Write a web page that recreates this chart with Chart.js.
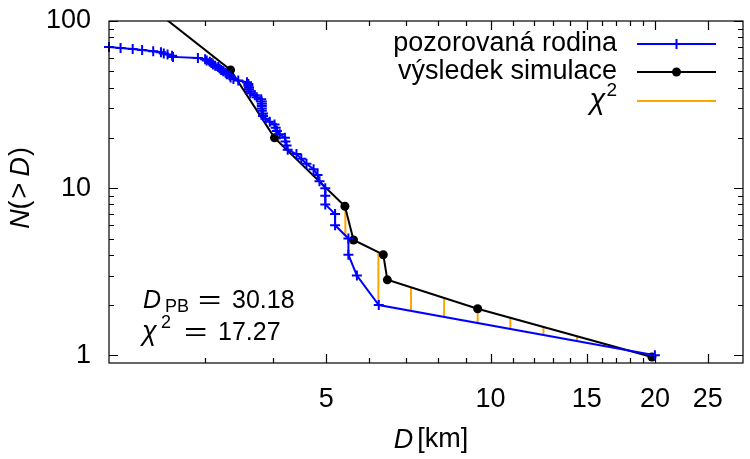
<!DOCTYPE html>
<html>
<head>
<meta charset="utf-8">
<script src="https://cdn.jsdelivr.net/npm/chart.js@4/dist/chart.umd.min.js"></script>
<style>
  body { margin: 0; background: #fff; }
  #wrap { width: 750px; height: 459px; }
</style>
</head>
<body>
<div id="wrap"><canvas id="chart"></canvas></div>
<script>
// observed family, cumulative N(>D)
const obsD = [
  2.00, 2.10, 2.21, 2.30, 2.41, 2.49, 2.52, 2.56, 2.61, 2.62,
  2.91, 3.00, 3.02, 3.06, 3.08, 3.10, 3.13, 3.17, 3.19, 3.21,
  3.24, 3.27, 3.29, 3.33, 3.34, 3.38, 3.45, 3.58, 3.60, 3.60,
  3.61, 3.61, 3.63, 3.63, 3.70, 3.73, 3.80, 3.81, 3.81, 3.81,
  3.81, 3.81, 3.83, 3.83, 3.87, 3.94, 4.02, 4.04, 4.06, 4.11,
  4.20, 4.21, 4.23, 4.25, 4.41, 4.50, 4.60, 4.74, 4.82, 4.86,
  4.98, 4.98, 4.98, 5.19, 5.19, 5.49, 5.49, 5.69, 6.24, 20.0
];
const obsN = [
  70, 69, 68, 67, 66, 65, 64, 63, 62, 61,
  60, 59, 58, 57, 56, 55, 54, 53, 52, 51,
  50, 49, 48, 47, 46, 45, 44, 43, 42, 41,
  40, 39, 38, 37, 36, 35, 34, 33, 32, 31,
  30, 29, 28, 27, 26, 25, 24, 23, 22, 21,
  20, 19, 18, 17, 16, 15, 14, 13, 12, 11,
  10, 9, 8, 7, 6, 5, 4, 3, 2, 1
];
// simulation result
const simD = [2.4, 3.34, 4.02, 5.41, 5.61, 6.36, 6.47, 9.47, 19.75];
const simN = [119, 51, 20, 7.8, 4.9, 4.0, 2.83, 1.90, 0.977];
// chi^2 bins: observed vs simulated
const chiD = [3.10, 3.56, 4.09, 4.72, 5.42, 6.23, 7.15, 8.22, 9.47, 10.87, 12.5, 14.4, 16.5, 19.0];
const chiObs = [55.3, 41.6, 21.5, 11.8, 5.25, 2.07, 1.85, 1.71, 1.58, 1.45, 1.34, 1.23, 1.13, 1.04];
const chiSim = [61.1, 36.8, 19.1, 11.9, 7.74, 4.12, 2.54, 2.19, 1.90, 1.67, 1.47, 1.30, 1.15, 1.01];

const xMajor = [5, 10, 15, 20, 25];
const xMinor = [3, 4, 6, 7, 8, 9, 11, 12, 13, 14, 16, 17, 18, 19];
const yMajor = [1, 10, 100];
const yMinor = [2, 3, 4, 5, 6, 7, 8, 9, 20, 30, 40, 50, 60, 70, 80, 90];

const FONT = '"Liberation Sans", Arial, Helvetica, sans-serif';
const BLUE = "#0000ff";
const ORANGE = "#ffa500";

const obsData = obsD.map((d, i) => ({ x: d, y: obsN[i] }));
const simData = simD.map((d, i) => ({ x: d, y: simN[i] }));
const chiData = [];
chiD.forEach((d, i) => {
  chiData.push({ x: d, y: chiObs[i] });
  chiData.push({ x: d, y: chiSim[i] });
  chiData.push({ x: d, y: null });
});

// draw a run of text pieces with mixed styles
function drawRich(ctx, parts, x, y, align) {
  const font = (p) => (p.italic ? "italic " : "") + (p.size || 27) + "px " + FONT;
  let total = 0;
  parts.forEach((p) => {
    ctx.font = font(p);
    total += ctx.measureText(p.t).width + (p.gap || 0);
  });
  let cx = align === "right" ? x - total : align === "center" ? x - total / 2 : x;
  parts.forEach((p) => {
    ctx.font = font(p);
    ctx.fillText(p.t, cx, y + (p.dy || 0));
    cx += ctx.measureText(p.t).width + (p.gap || 0);
  });
}

const decor = {
  id: "decor",
  afterDatasetsDraw(chart) {
    const { ctx, chartArea: a, scales } = chart;
    const x = scales.x, y = scales.y;
    ctx.save();
    ctx.strokeStyle = "#000";
    ctx.lineWidth = 1.2;
    ctx.strokeRect(a.left, a.top, a.right - a.left, a.bottom - a.top);
    ctx.beginPath();
    const xt = (v, len) => {
      const px = Math.round(x.getPixelForValue(v)) + 0.5;
      ctx.moveTo(px, a.bottom); ctx.lineTo(px, a.bottom - len);
      ctx.moveTo(px, a.top); ctx.lineTo(px, a.top + len);
    };
    const yt = (v, len) => {
      const py = Math.round(y.getPixelForValue(v)) + 0.5;
      ctx.moveTo(a.left, py); ctx.lineTo(a.left + len, py);
      ctx.moveTo(a.right, py); ctx.lineTo(a.right - len, py);
    };
    xMajor.forEach((v) => xt(v, 9));
    xMinor.forEach((v) => xt(v, 5));
    yMajor.forEach((v) => yt(v, 9));
    yMinor.forEach((v) => yt(v, 5));
    ctx.stroke();
    ctx.restore();
  },
  afterDraw(chart) {
    const { ctx } = chart;
    const ds = chart.data.datasets;
    ctx.save();
    ctx.fillStyle = "#000";
    ctx.textBaseline = "middle";

    // axis titles
    drawRich(ctx, [{ t: "D", italic: true, gap: 4 }, { t: "[km]" }], 431, 440, "center");
    ctx.save();
    ctx.translate(21, 188);
    ctx.rotate(-Math.PI / 2);
    drawRich(ctx, [
      { t: "N", italic: true }, { t: "(", gap: 2 }, { t: ">", gap: 6 },
      { t: "D", italic: true, gap: 1 }, { t: ")" }
    ], 0, 0, "center");
    ctx.restore();

    // legend
    const rows = [44, 72, 101];
    const texts = [
      [{ t: "pozorovaná rodina" }],
      [{ t: "výsledek simulace" }],
      [{ t: "χ", italic: true, size: 29, gap: 1 }, { t: "2", size: 19, dy: -10 }]
    ];
    rows.forEach((ry, i) => {
      drawRich(ctx, texts[i], 617, ry, "right");
      ctx.strokeStyle = ds[i].borderColor;
      ctx.lineWidth = 2;
      ctx.beginPath();
      ctx.moveTo(637, ry); ctx.lineTo(716, ry);
      ctx.stroke();
    });
    ctx.strokeStyle = BLUE;
    ctx.lineWidth = 2;
    ctx.beginPath();
    ctx.moveTo(671.5, rows[0]); ctx.lineTo(681.5, rows[0]);
    ctx.moveTo(676.5, rows[0] - 5); ctx.lineTo(676.5, rows[0] + 5);
    ctx.stroke();
    ctx.beginPath();
    ctx.arc(676.5, rows[1], 4.5, 0, Math.PI * 2);
    ctx.fill();

    // fit summary
    ctx.textBaseline = "alphabetic";
    const eq = (ex, ey) => {
      ctx.save();
      ctx.font = "25px " + FONT;
      ctx.translate(ex, ey);
      ctx.scale(1.6, 1);
      ctx.fillText("=", 0, 0);
      ctx.restore();
    };
    ctx.font = "italic 25px " + FONT;
    ctx.fillText("D", 143, 308);
    ctx.font = "18px " + FONT;
    ctx.fillText("PB", 165, 312);
    eq(198, 308);
    ctx.font = "25px " + FONT;
    ctx.fillText("30.18", 232, 308);
    ctx.font = "italic 27px " + FONT;
    ctx.fillText("χ", 142, 340);
    ctx.font = "18px " + FONT;
    ctx.fillText("2", 161, 328);
    eq(184, 340);
    ctx.font = "25px " + FONT;
    ctx.fillText("17.27", 218, 340);
    ctx.restore();
  }
};

new Chart(document.getElementById("chart"), {
  type: "scatter",
  data: {
    datasets: [
      {
        label: "pozorovaná rodina",
        data: obsData,
        showLine: true,
        borderColor: BLUE,
        backgroundColor: BLUE,
        borderWidth: 2,
        pointStyle: "cross",
        pointRadius: 5,
        pointBorderWidth: 2,
        clip: 8
      },
      {
        label: "výsledek simulace",
        data: simData,
        showLine: true,
        borderColor: "#000000",
        backgroundColor: "#000000",
        borderWidth: 2,
        pointStyle: "circle",
        pointRadius: 4.5,
        pointBorderWidth: 0
      },
      {
        label: "χ2",
        data: chiData,
        showLine: true,
        spanGaps: false,
        borderColor: ORANGE,
        backgroundColor: ORANGE,
        borderWidth: 2,
        pointRadius: 0
      }
    ]
  },
  options: {
    responsive: true,
    maintainAspectRatio: false,
    animation: false,
    layout: { padding: { top: 21, right: 1, left: 0, bottom: 0 } },
    plugins: {
      legend: { display: false },
      tooltip: { enabled: false }
    },
    scales: {
      x: {
        type: "logarithmic",
        min: 2,
        max: 29,
        grid: { display: false, drawTicks: false },
        border: { display: false },
        afterBuildTicks: (s) => { s.ticks = xMajor.map((v) => ({ value: v })); },
        afterFit: (s) => {
          s.height = 96;
          s.paddingLeft = 0; s.paddingRight = 0;
        },
        ticks: {
          autoSkip: false,
          maxRotation: 0,
          padding: 20,
          color: "#000",
          font: { family: FONT, size: 27 },
          callback: (v) => String(v)
        }
      },
      y: {
        type: "logarithmic",
        min: 0.9,
        max: 100,
        grid: { display: false, drawTicks: false },
        border: { display: false },
        afterBuildTicks: (s) => { s.ticks = yMajor.map((v) => ({ value: v })); },
        afterFit: (s) => {
          s.width = 109;
          s.paddingTop = 0; s.paddingBottom = 0;
        },
        ticks: {
          autoSkip: false,
          padding: 18,
          color: "#000",
          font: { family: FONT, size: 27 },
          callback: (v) => String(v)
        }
      }
    }
  },
  plugins: [decor]
});
</script>
</body>
</html>
